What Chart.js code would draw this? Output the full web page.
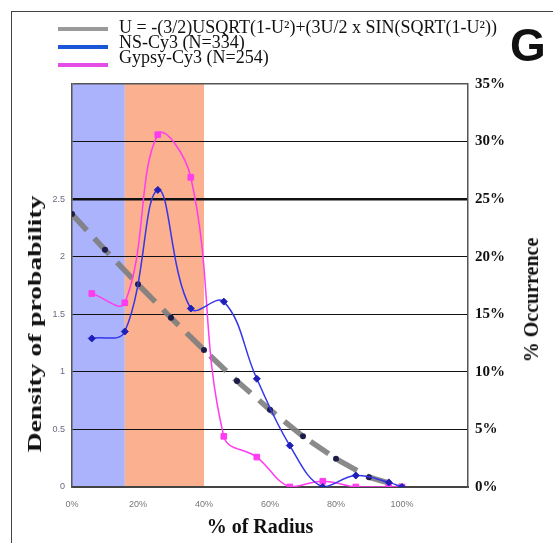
<!DOCTYPE html>
<html lang="en">
<head>
    <meta charset="UTF-8">
    <title>Density of probability vs % of Radius</title>
    <script src="https://cdn.jsdelivr.net/npm/chart.js"></script>
    <style>
        html, body { margin: 0; padding: 0; background: #fff; overflow: hidden; }
        #wrap { position: relative; width: 553px; height: 543px; }
        #frame { position: absolute; left: 11px; top: 11px; width: 600px; height: 600px;
                 border-left: 1.5px solid #444; border-top: 1.5px solid #444; }
        canvas { position: absolute; left: 0; top: 0; }
        .lg-line { position: absolute; left: 58px; width: 50px; height: 4px; }
        .lg-text { position: absolute; left: 119px; font: 18px "Liberation Serif", serif; line-height: 18px; white-space: nowrap; color: #111; }
        .title { position: absolute; font: bold 20px "Liberation Serif", serif; line-height: 20px; white-space: nowrap; color: #111; }
        #panel { position: absolute; left: 510px; top: 22px; font: bold 46px "Liberation Sans", Arial, sans-serif; line-height: 46px; color: #111; }
    </style>
</head>
<body>
<div id="wrap">
    <div id="frame"></div>
    <canvas id="chart" width="553" height="543"></canvas>
    <div id="legend"></div>
    <div id="panel">G</div>
    <div class="title" id="xTitle" style="left:260px; top:516px; transform:translateX(-50%);">% of Radius</div>
    <div class="title" id="yTitle" style="left:35px; top:324px; font-size:19px; transform:translate(-50%,-50%) rotate(-90deg) scaleX(1.45);">Density of probability</div>
    <div class="title" id="y1Title" style="left:531px; top:300px; transform:translate(-50%,-50%) rotate(-90deg);">% Occurrence</div>
</div>
<script>
    // model curve (left axis, density)
    const radiusModel = [0, 10, 20, 30, 40, 50, 60, 70, 80, 90, 100];
    const densityModel = [2.37, 2.06, 1.76, 1.47, 1.19, 0.92, 0.67, 0.44, 0.245, 0.085, 0];

    // measured distributions (right axis, % occurrence)
    const radiusObs = [6, 16, 26, 36, 46, 56, 66, 76, 86, 96, 100];
    const nsCy3 = [12.9, 13.5, 25.8, 15.5, 16.1, 9.4, 3.6, 0, 1.0, 0.4, 0];
    const gypsyCy3 = [16.8, 16.0, 30.6, 26.9, 4.4, 2.6, 0, 0.5, 0, 0, 0];

    const seriesNames = ['U = -(3/2)USQRT(1-U\u00b2)+(3U/2 x SIN(SQRT(1-U\u00b2))', 'NS-Cy3 (N=334)', 'Gypsy-Cy3 (N=254)'];
    const legendColors = ['#9a9a9a', '#1a56d6', '#e54ee6'];

    // shaded zones along the radius
    const bandEdges = [0, 16, 40];
    const bandColors = ['#aab3fb', '#fbb190'];

    const toPoints = (xs, ys) => xs.map((x, i) => ({ x: x, y: ys[i] }));

    const bandsPlugin = {
        id: 'bands',
        beforeDraw(chart) {
            const { ctx, chartArea, scales } = chart;
            ctx.save();
            for (let i = 0; i < bandColors.length; i++) {
                const x0 = scales.x.getPixelForValue(bandEdges[i]);
                const x1 = scales.x.getPixelForValue(bandEdges[i + 1]);
                ctx.fillStyle = bandColors[i];
                ctx.fillRect(x0, chartArea.top, x1 - x0, chartArea.bottom - chartArea.top);
            }
            ctx.restore();
        }
    };

    const chart = new Chart(document.getElementById('chart'), {
        type: 'line',
        data: {
            datasets: [{
                label: seriesNames[1],
                data: toPoints(radiusObs, nsCy3),
                yAxisID: 'y1',
                borderColor: '#3535ea',
                borderWidth: 1.5,
                pointStyle: 'rectRot',
                pointRadius: 3.5,
                pointBorderWidth: 1,
                pointBackgroundColor: '#2020b8',
                pointBorderColor: '#2020b8',
                tension: 0.4
            }, {
                label: seriesNames[2],
                data: toPoints(radiusObs, gypsyCy3),
                yAxisID: 'y1',
                borderColor: '#ff3cf0',
                borderWidth: 1.5,
                pointStyle: 'rect',
                pointRadius: 4,
                pointBorderWidth: 1,
                pointBackgroundColor: '#ff3cf0',
                pointBorderColor: '#ff3cf0',
                tension: 0.4
            }, {
                label: seriesNames[0],
                data: toPoints(radiusModel, densityModel),
                yAxisID: 'y',
                borderColor: 'rgba(125,125,125,0.9)',
                borderWidth: 5.5,
                borderDash: [22, 11],
                pointStyle: 'circle',
                pointRadius: 3,
                pointBorderWidth: 0,
                pointBackgroundColor: '#1c1c48',
                pointBorderColor: '#1c1c48',
                tension: 0
            }]
        },
        options: {
            responsive: false,
            animation: false,
            layout: { padding: { top: 84, left: 0, right: 0, bottom: 0 } },
            plugins: { legend: { display: false }, tooltip: { enabled: false } },
            scales: {
                x: {
                    type: 'linear', min: 0, max: 120,
                    ticks: {
                        stepSize: 20, padding: 12, color: '#777',
                        font: { family: 'Liberation Sans', size: 9 },
                        callback: v => v <= 100 ? v + '%' : ''
                    },
                    grid: { drawOnChartArea: false, drawTicks: false },
                    border: { color: '#444', width: 2 },
                    afterFit: s => { s.height = 56; }
                },
                y: {
                    position: 'left', min: 0, max: 3.5,
                    ticks: {
                        stepSize: 0.5, padding: 7, color: '#6a6a80',
                        font: { family: 'Liberation Sans', size: 9 },
                        callback: v => v <= 2.5 ? v : ''
                    },
                    grid: {
                        drawTicks: false,
                        color: c => c.tick && c.tick.value === 3.5 ? '#555' : '#111',
                        lineWidth: c => c.tick && c.tick.value === 2.5 ? 2.5 : (c.tick && c.tick.value === 3.5 ? 1.5 : 1)
                    },
                    border: { color: '#555', width: 1.5 },
                    afterFit: s => { s.width = 72; }
                },
                y1: {
                    position: 'right', min: 0, max: 35,
                    ticks: {
                        stepSize: 5, padding: 7, color: '#111',
                        font: { family: 'Liberation Serif', size: 15, weight: 'bold' },
                        callback: v => v + '%'
                    },
                    grid: { drawOnChartArea: false, drawTicks: false },
                    border: { color: '#555', width: 1.5 },
                    afterFit: s => { s.width = 85; }
                }
            }
        },
        plugins: [bandsPlugin]
    });

    // legend built from the series names
    const legend = document.getElementById('legend');
    const rowLine = [27, 45, 63];
    const rowText = [18, 33, 48];
    seriesNames.forEach((name, i) => {
        const line = document.createElement('div');
        line.className = 'lg-line';
        line.style.top = rowLine[i] + 'px';
        line.style.background = legendColors[i];
        legend.appendChild(line);
        const txt = document.createElement('div');
        txt.className = 'lg-text';
        txt.style.top = rowText[i] + 'px';
        txt.textContent = name;
        legend.appendChild(txt);
    });
</script>
</body>
</html>
